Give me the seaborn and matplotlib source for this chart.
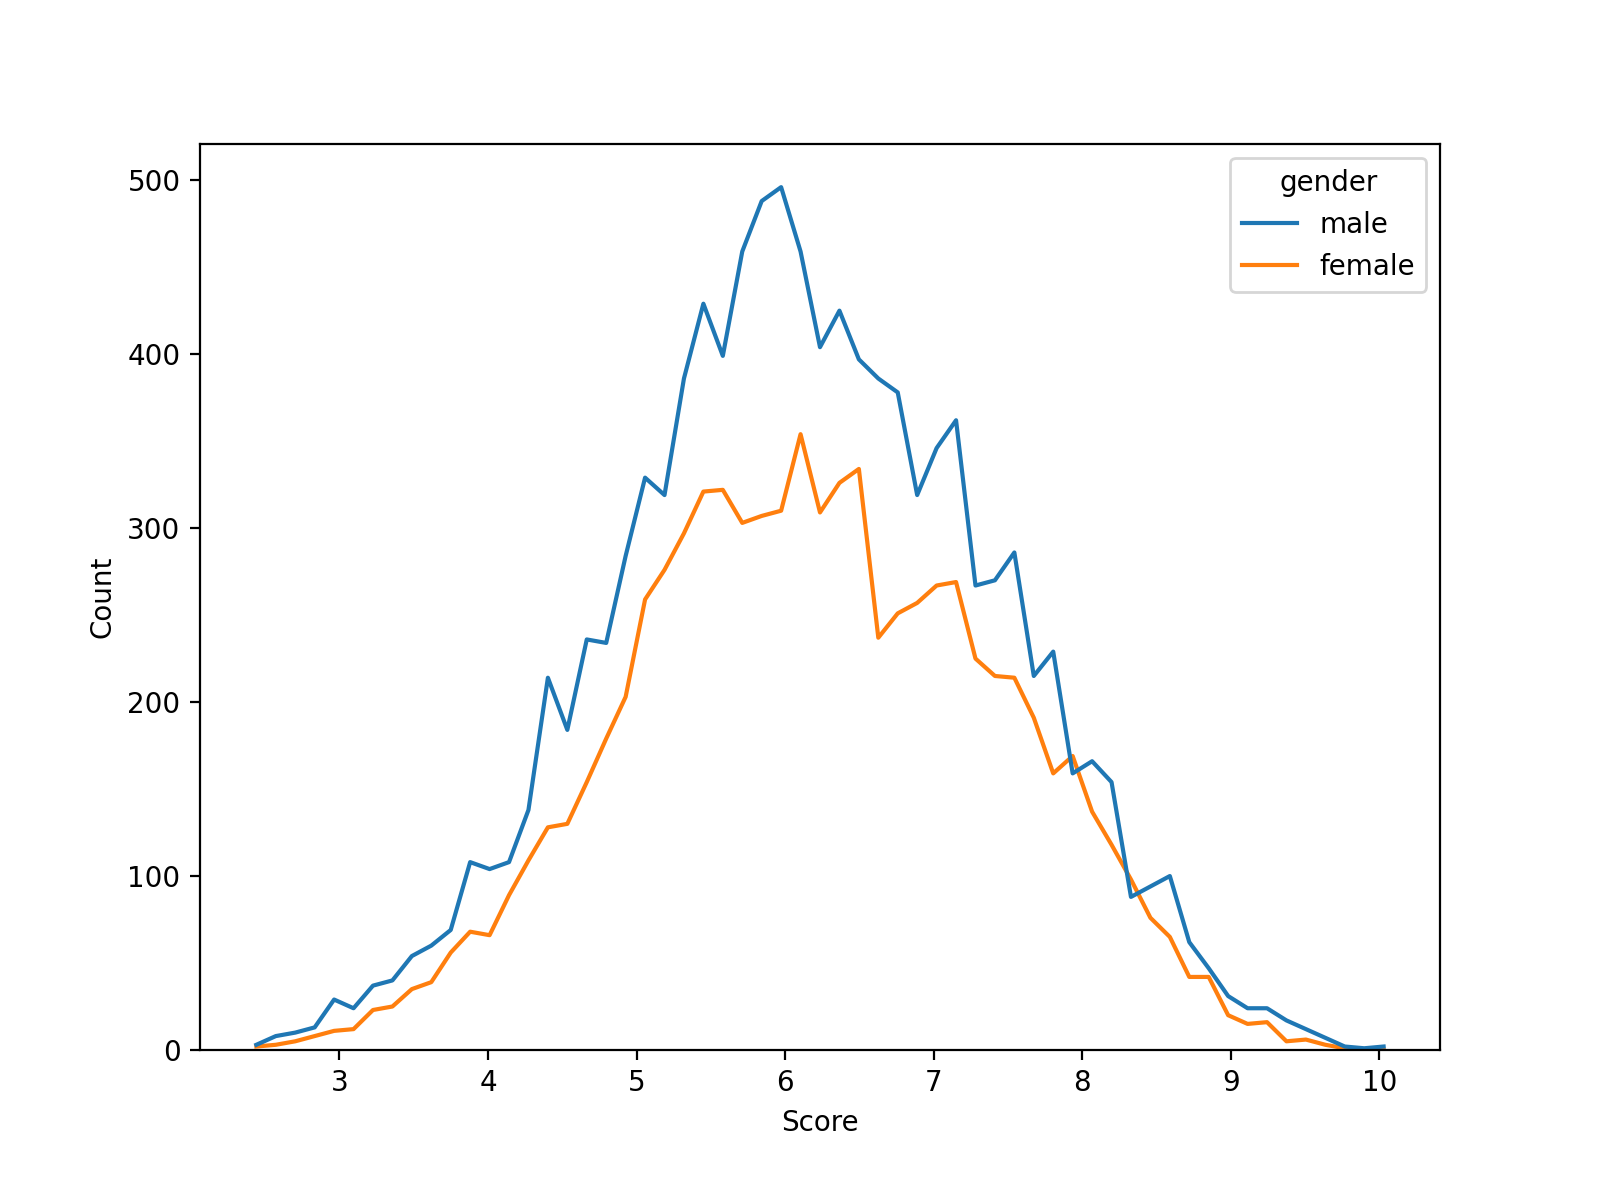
import pandas as pd
import matplotlib
matplotlib.use("Agg")
import matplotlib.pyplot as plt
import seaborn as sns

# bin centres of the score histogram
score = [2.440, 2.571, 2.702, 2.833, 2.963, 3.094, 3.225, 3.356, 3.487, 3.618,
         3.749, 3.879, 4.010, 4.141, 4.272, 4.403, 4.534, 4.665, 4.796, 4.926,
         5.057, 5.188, 5.319, 5.450, 5.581, 5.712, 5.842, 5.973, 6.104, 6.235,
         6.366, 6.497, 6.628, 6.758, 6.889, 7.020, 7.151, 7.282, 7.413, 7.544,
         7.674, 7.805, 7.936, 8.067, 8.198, 8.329, 8.460, 8.590, 8.721, 8.852,
         8.983, 9.114, 9.245, 9.376, 9.506, 9.637, 9.768, 9.899, 10.030]

# counts per bin
male = [3, 8, 10, 13, 29, 24, 37, 40, 54, 60,
        69, 108, 104, 108, 138, 214, 184, 236, 234, 284,
        329, 319, 386, 429, 399, 459, 488, 496, 459, 404,
        425, 397, 386, 378, 319, 346, 362, 267, 270, 286,
        215, 229, 159, 166, 154, 88, 94, 100, 62, 47,
        31, 24, 24, 17, 12, 7, 2, 1, 2]
female = [2, 3, 5, 8, 11, 12, 23, 25, 35, 39,
          56, 68, 66, 89, 109, 128, 130, 154, 179, 203,
          259, 276, 297, 321, 322, 303, 307, 310, 354, 309,
          326, 334, 237, 251, 257, 267, 269, 225, 215, 214,
          191, 159, 169, 137, 118, 98, 76, 65, 42, 42,
          20, 15, 16, 5, 6, 3, 1, 0, 0]

df = pd.DataFrame({
    "Score": score + score,
    "gender": ["male"] * len(male) + ["female"] * len(female),
    "n": male + female,
})

fig, ax = plt.subplots(figsize=(8, 6), dpi=200)
fig.subplots_adjust(left=0.125, right=0.9, top=0.88, bottom=0.125)
sns.histplot(data=df, x="Score", hue="gender", weights="n",
             bins=59, binrange=(2.375, 10.095),
             element="poly", fill=False, ax=ax)
ax.set_ylabel("Count")
fig.savefig("out.png", dpi=200)
